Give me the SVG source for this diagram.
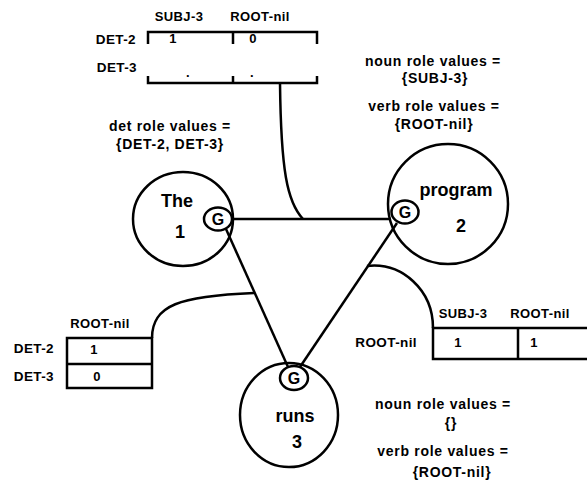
<svg xmlns="http://www.w3.org/2000/svg" width="587" height="484" viewBox="0 0 587 484">
<style>
text{font-family:"Liberation Sans",Arial,sans-serif;font-weight:bold;fill:#000}
.s{font-size:14px;letter-spacing:0.7px;text-anchor:middle}
.h{font-size:13px;letter-spacing:0.4px;text-anchor:middle}
.r{font-size:13.5px;letter-spacing:0.4px;text-anchor:end}
.n{font-size:18px;text-anchor:middle}
.g{font-size:16px;text-anchor:middle}
.ln{fill:none;stroke:#000;stroke-width:2.5}
.node{fill:#fff;stroke:#000;stroke-width:2.5}
.ring{fill:none;stroke:#000;stroke-width:2.5}
.tb{fill:none;stroke:#000;stroke-width:2.5}
</style>
<rect width="587" height="484" fill="#fff"/>

<g id="connectors">
<path class="ln" d="M280,83 C281,170 287,202 303,219"/>
<path class="ln" d="M152,338 C152,305 180,296 254,293"/>
<path class="ln" d="M367,266 C402,262 433,290 433,328"/>
<line class="ln" x1="232" y1="219" x2="391" y2="219"/>
<line class="ln" x1="226" y1="229" x2="288" y2="367"/>
<line class="ln" x1="397" y1="223" x2="300" y2="367"/>
</g>

<g id="node-the">
<ellipse class="ring" cx="183" cy="219" rx="50" ry="47"/>
<text class="n" x="177" y="207">The</text>
<text class="n" x="180" y="238">1</text>
<ellipse class="node" cx="218" cy="219" rx="14" ry="11.5"/>
<text class="g" x="218" y="225">G</text>
</g>

<g id="node-program">
<circle class="ring" cx="448" cy="204" r="60"/>
<text class="n" x="456" y="196">program</text>
<text class="n" x="461" y="232">2</text>
<ellipse class="node" cx="405" cy="212" rx="13.5" ry="11.5"/>
<text class="g" x="405" y="218">G</text>
</g>

<g id="node-runs">
<ellipse class="ring" cx="289" cy="415" rx="49" ry="52"/>
<text class="n" x="295" y="422">runs</text>
<text class="n" x="297" y="448">3</text>
<ellipse class="node" cx="294" cy="378" rx="14" ry="12"/>
<text class="g" x="294" y="384">G</text>
</g>

<g id="table-top">
<text class="h" x="179" y="21">SUBJ-3</text>
<text class="h" x="260" y="21">ROOT-nil</text>
<text class="r" x="136" y="44">DET-2</text>
<text class="r" x="137" y="72">DET-3</text>
<path class="tb" d="M148,44 V32 H317 V44 M233,32 V44 M148,76 V83 H317 V76 M233,76 V83"/>
<text class="h" x="173" y="43">1</text>
<text class="h" x="253" y="43">0</text>
<text class="h" x="188" y="77">.</text>
<text class="h" x="252" y="77">.</text>
</g>

<g id="table-left">
<text class="h" x="100" y="328">ROOT-nil</text>
<text class="r" x="54" y="353">DET-2</text>
<text class="r" x="54" y="381">DET-3</text>
<path class="tb" d="M67,338 H152 V388 H67 Z M67,364 H152"/>
<text class="h" x="94" y="354">1</text>
<text class="h" x="97" y="381">0</text>
</g>

<g id="table-right">
<text class="h" x="463" y="318">SUBJ-3</text>
<text class="h" x="540" y="318">ROOT-nil</text>
<text class="r" x="417" y="347">ROOT-nil</text>
<path class="tb" d="M590,328 H433 V359 H590 M518,328 V359"/>
<text class="h" x="458" y="347">1</text>
<text class="h" x="534" y="347">1</text>
</g>

<g id="label-det">
<text class="s" x="170" y="131">det role values =</text>
<text class="s" x="170" y="149">{DET-2, DET-3}</text>
</g>

<g id="label-program">
<text class="s" x="433" y="66">noun role values =</text>
<text class="s" x="435" y="83">{SUBJ-3}</text>
<text class="s" x="434" y="111">verb role values =</text>
<text class="s" x="434" y="129">{ROOT-nil}</text>
</g>

<g id="label-runs">
<text class="s" x="443" y="409">noun role values =</text>
<text class="s" x="451" y="428">{}</text>
<text class="s" x="443" y="456">verb role values =</text>
<text class="s" x="452" y="477">{ROOT-nil}</text>
</g>
</svg>
